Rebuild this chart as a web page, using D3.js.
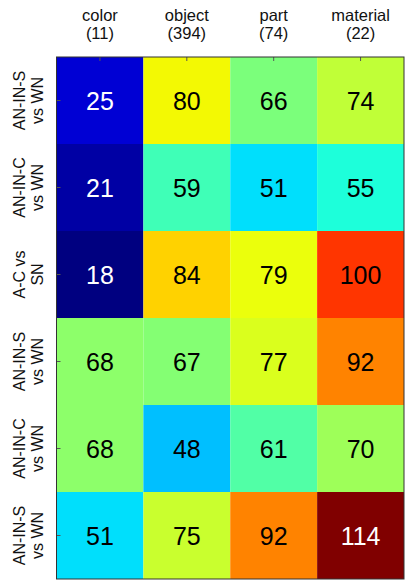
<!DOCTYPE html>
<html lang="en">
<head>
    <meta charset="UTF-8">
    <title>Heatmap</title>
    <style>
        body { margin: 0; padding: 0; background: #fff; }
        svg { display: block; font-family: "Liberation Sans", Arial, sans-serif; }
    </style>
</head>
<body>
    <svg id="chart" width="409" height="585"></svg>
    <script src="https://d3js.org/d3.v7.min.js"></script>
    <script>
        // column / row labels
        const categories = ['color', 'object', 'part', 'material'];
        const categoryCounts = ['(11)', '(394)', '(74)', '(22)'];
        const rowTop = ['AN-IN-S', 'AN-IN-C', 'A-C vs', 'AN-IN-S', 'AN-IN-C', 'AN-IN-S'];
        const rowBottom = ['vs WN', 'vs WN', 'SN', 'vs WN', 'vs WN', 'vs WN'];

        // values, one array per row
        const row1 = [25, 80, 66, 74];
        const row2 = [21, 59, 51, 55];
        const row3 = [18, 84, 79, 100];
        const row4 = [68, 67, 77, 92];
        const row5 = [68, 48, 61, 70];
        const row6 = [51, 75, 92, 114];
        const rows = [row1, row2, row3, row4, row5, row6];

        const plotL = 56.5, plotT = 57, plotR = 404, plotB = 579;

        const svg = d3.select('#chart');

        const x = d3.scaleBand().domain(d3.range(categories.length)).range([plotL, plotR]);
        const y = d3.scaleBand().domain(d3.range(rows.length)).range([plotT, plotB]);

        // jet colormap (same segments as matplotlib's)
        const jr = d3.scaleLinear().domain([0, 0.35, 0.66, 0.89, 1]).range([0, 0, 1, 1, 0.5]).clamp(true);
        const jg = d3.scaleLinear().domain([0, 0.125, 0.375, 0.64, 0.91, 1]).range([0, 0, 1, 1, 0, 0]).clamp(true);
        const jb = d3.scaleLinear().domain([0, 0.11, 0.34, 0.65, 1]).range([0.5, 1, 1, 0, 0]).clamp(true);
        const jet = t => d3.rgb(jr(t) * 255, jg(t) * 255, jb(t) * 255).toString();

        const allVals = rows.flat();
        const color = d3.scaleSequential(jet).domain(d3.extent(allVals));

        const cells = [];
        rows.forEach((r, i) => r.forEach((v, j) => cells.push({ i, j, v })));

        svg.selectAll('rect.cell')
            .data(cells)
            .enter()
            .append('rect')
            .attr('class', 'cell')
            .attr('x', d => x(d.j))
            .attr('y', d => y(d.i))
            .attr('width', x.bandwidth())
            .attr('height', y.bandwidth())
            .attr('fill', d => color(d.v));

        // dark cells get white numbers
        const isDark = v => {
            const t = (v - color.domain()[0]) / (color.domain()[1] - color.domain()[0]);
            return t < 0.1 || t > 0.9;
        };

        svg.selectAll('text.val')
            .data(cells)
            .enter()
            .append('text')
            .attr('class', 'val')
            .attr('x', d => x(d.j) + x.bandwidth() / 2)
            .attr('y', d => y(d.i) + y.bandwidth() / 2 + 9)
            .attr('text-anchor', 'middle')
            .attr('font-size', 25)
            .attr('fill', d => isDark(d.v) ? '#fff' : '#000')
            .text(d => d.v);

        // ticks (inside, matlab style)
        const xAxis = d3.axisTop(x).tickSizeInner(-4).tickSizeOuter(0).tickFormat('');
        const yAxis = d3.axisLeft(y).tickSizeInner(-4).tickSizeOuter(0).tickFormat('');
        svg.append('g').attr('transform', `translate(0,${plotT})`).call(xAxis)
            .call(g => g.select('.domain').remove())
            .selectAll('line').attr('stroke', '#555');
        svg.append('g').attr('transform', `translate(${plotL},0)`).call(yAxis)
            .call(g => g.select('.domain').remove())
            .selectAll('line').attr('stroke', '#555');

        // frame
        svg.append('rect')
            .attr('x', plotL).attr('y', plotT)
            .attr('width', plotR - plotL).attr('height', plotB - plotT)
            .attr('fill', 'none')
            .attr('stroke', '#333')
            .attr('stroke-width', 1);

        // column labels
        const colLab = svg.selectAll('text.col')
            .data(categories)
            .enter()
            .append('text')
            .attr('class', 'col')
            .attr('text-anchor', 'middle')
            .attr('font-size', 16.5)
            .attr('fill', '#111');
        colLab.append('tspan')
            .attr('x', (d, j) => x(j) + x.bandwidth() / 2)
            .attr('y', 20.5)
            .text(d => d);
        colLab.append('tspan')
            .attr('x', (d, j) => x(j) + x.bandwidth() / 2)
            .attr('y', 39)
            .text((d, j) => categoryCounts[j]);

        // row labels, rotated
        const rowLab = svg.selectAll('g.rowlab')
            .data(rowTop)
            .enter()
            .append('g')
            .attr('class', 'rowlab')
            .attr('transform', (d, i) => `translate(0,${y(i) + y.bandwidth() / 2}) rotate(-90)`);
        rowLab.append('text')
            .attr('x', 0).attr('y', 25)
            .attr('text-anchor', 'middle')
            .attr('font-size', 16)
            .attr('fill', '#111')
            .text(d => d);
        rowLab.append('text')
            .attr('x', 0).attr('y', 43)
            .attr('text-anchor', 'middle')
            .attr('font-size', 16)
            .attr('fill', '#111')
            .text((d, i) => rowBottom[i]);
    </script>
</body>
</html>
